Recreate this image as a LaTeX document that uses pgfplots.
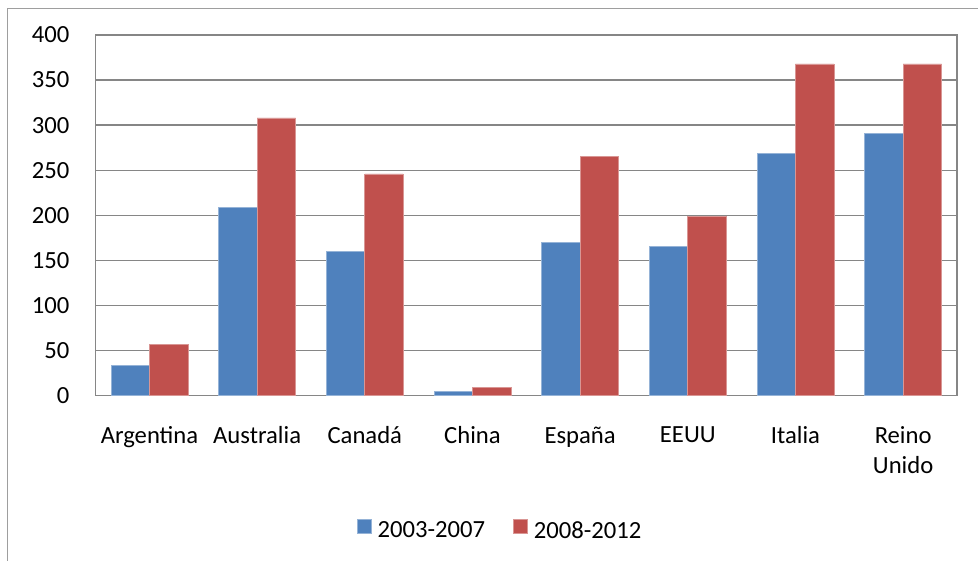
\documentclass[border=0pt]{standalone}
\usepackage{fontspec}
\setmainfont{Carlito}
\usepackage{pgfplots}
\pgfplotsset{compat=1.18}

\definecolor{serieA}{HTML}{4F81BD}
\definecolor{serieB}{HTML}{C0504D}
\definecolor{rejilla}{HTML}{868686}

\begin{document}
\begin{tikzpicture}
  \begin{scope}[overlay]
  \begin{axis}[
    at={(0pt,0pt)}, anchor=south west,
    scale only axis,
    width=646.5pt, height=270.75pt,
    ybar=0pt, bar width=0.357,
    xmin=-0.5, xmax=7.5,
    ymin=0, ymax=400,
    ytick={0,50,...,400},
    xtick={0,...,7},
    xticklabels={Argentina,Australia,Canadá,China,España,EEUU,Italia,Reino\\Unido},
    major tick length=0pt,
    ymajorgrids,
    grid style={rejilla, line width=1.1pt},
    axis line style={rejilla, line width=1.1pt},
    /pgf/number format/assume math mode=true,
    tick label style={font=\fontsize{18.5}{22.5}\selectfont, inner sep=0pt},
    yticklabel style={anchor=east, xshift=-19.5pt},
    xticklabel style={anchor=north, yshift=-23pt, align=center},
    legend columns=2,
    legend style={
      at={(0.470,-0.374)}, anchor=center,
      draw=none, fill=none,
      font=\fontsize{18.5}{22.5}\selectfont,
      /tikz/every odd column/.append style={column sep=2.5pt},
      /tikz/every even column/.append style={column sep=19pt},
    },
    legend image code/.code={%
      \fill[#1] (0pt,-5.25pt+0.3em) rectangle (10.5pt,5.25pt+0.3em);},
  ]
    \addplot[fill=serieA, draw=serieA!60!white, line width=0.5pt]
      coordinates {(0,34) (1,209) (2,160) (3,5) (4,170) (5,166) (6,269) (7,291)};
    \addplot[fill=serieB, draw=serieB!60!white, line width=0.5pt]
      coordinates {(0,57) (1,308) (2,246) (3,9) (4,265) (5,199) (6,368) (7,368)};
    \legend{2003-2007,2008-2012}
  \end{axis}
  \end{scope}
  % page size and outer chart frame
  \path (-71.775pt,-123.75pt) rectangle (662.475pt,297pt);
  \draw[rejilla!80, line width=1.1pt]
    (-66.3pt,-123.75pt) -- (-66.3pt,290.6pt) -- (662.475pt,290.6pt);
\end{tikzpicture}
\end{document}
